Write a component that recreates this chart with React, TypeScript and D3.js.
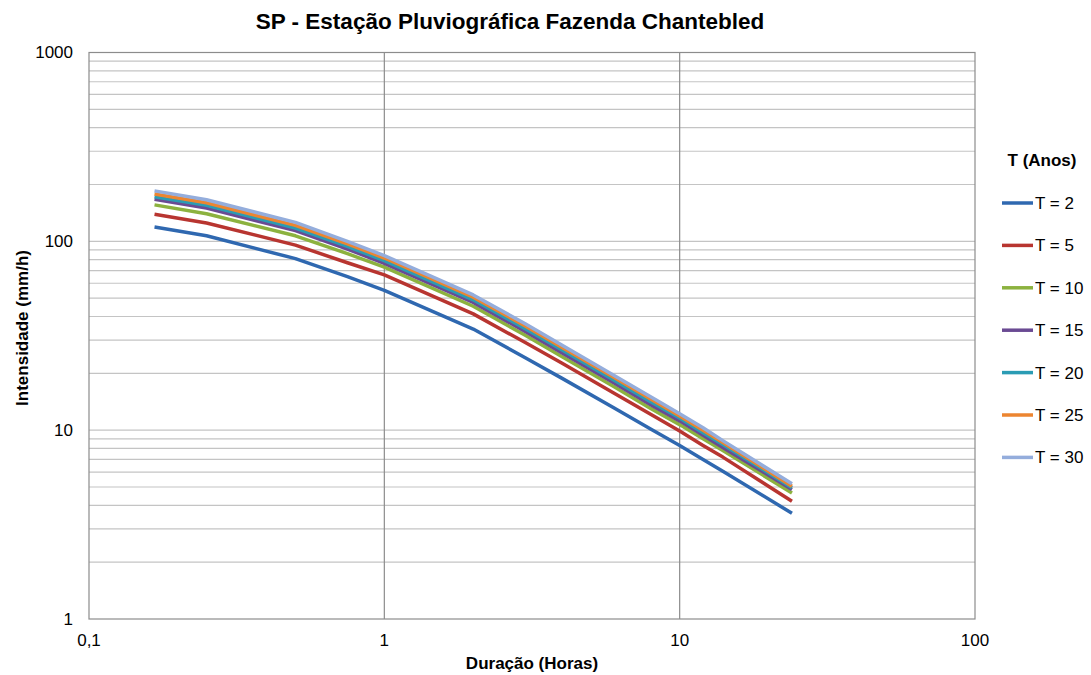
import { useEffect, useRef } from 'react';
import * as d3 from 'd3';

// duração em horas (10, 15, 30, 45 min, depois horas)
const durations = [1 / 6, 0.25, 0.5, 0.75, 1, 2, 3, 4, 6, 8, 10, 12, 14, 24];

const seriesNames = ['T = 2', 'T = 5', 'T = 10', 'T = 15', 'T = 20', 'T = 25', 'T = 30'];
const seriesColors = ['#2F68B0', '#B83530', '#8CB23F', '#6A4A93', '#2B9CB4', '#EC8530', '#94ADDC'];

const t2 = [119, 107, 81, 65, 55, 34.3, 24.2, 18.8, 13.1, 10.1, 8.3, 7.0, 6.06, 3.63];
const t5 = [139, 125, 95.5, 77, 66.5, 41.3, 29.1, 22.6, 15.7, 12.1, 9.9, 8.3, 7.2, 4.2];
const t10 = [156, 140, 107, 86, 73, 45.3, 31.8, 24.5, 17.0, 13.0, 10.7, 9.0, 7.8, 4.65];
const t15 = [167, 150, 114, 91, 76.5, 47.5, 33.3, 25.6, 17.8, 13.6, 11.2, 9.4, 8.1, 4.85];
const t20 = [172, 155, 117.5, 94, 79, 49, 34.5, 26.6, 18.4, 14.1, 11.6, 9.7, 8.4, 4.95];
const t25 = [178, 160, 121.5, 97, 81.6, 50.6, 35.6, 27.4, 19.0, 14.6, 11.9, 10.0, 8.6, 5.05];
const t30 = [185, 166, 126, 100, 84, 52, 36.6, 28.2, 19.5, 15.0, 12.2, 10.3, 8.8, 5.2];

const xTicks = [0.1, 1, 10, 100];
const xTickLabels = ['0,1', '1', '10', '100'];
const yTicks = [1, 10, 100, 1000];

const font = 'Liberation Sans, Arial, sans-serif';

export default function App() {
  const svgRef = useRef<SVGSVGElement>(null);

  useEffect(() => {
    document.body.style.margin = '0';
    const width = 1091;
    const height = 675;
    const margin = { top: 52.5, right: 116, bottom: 56, left: 89 };
    const innerWidth = width - margin.left - margin.right;
    const innerHeight = height - margin.top - margin.bottom;

    const svg = d3.select(svgRef.current).attr('width', width).attr('height', height);
    svg.selectAll('*').remove();

    svg.append('rect').attr('width', width).attr('height', height).attr('fill', 'white');

    const chart = svg.append('g').attr('transform', `translate(${margin.left},${margin.top})`);

    const xScale = d3.scaleLog().domain([0.1, 100]).range([0, innerWidth]);
    const yScale = d3.scaleLog().domain([1, 1000]).range([innerHeight, 0]);

    // linhas de grade horizontais (maiores e menores)
    const yGrid: number[] = [];
    [1, 10, 100].forEach(dec => {
      for (let k = 2; k <= 10; k++) yGrid.push(dec * k);
    });
    chart.selectAll('.hgrid')
      .data(yGrid.filter(v => v < 1000))
      .join('line')
      .attr('class', 'hgrid')
      .attr('x1', 0)
      .attr('x2', innerWidth)
      .attr('y1', d => yScale(d))
      .attr('y2', d => yScale(d))
      .attr('stroke', '#C4C4C4')
      .attr('stroke-width', 1.2);

    chart.selectAll('.vgrid')
      .data([1, 10])
      .join('line')
      .attr('class', 'vgrid')
      .attr('x1', d => xScale(d))
      .attr('x2', d => xScale(d))
      .attr('y1', 0)
      .attr('y2', innerHeight)
      .attr('stroke', '#8C8C8C')
      .attr('stroke-width', 1.2);

    chart.append('rect')
      .attr('width', innerWidth)
      .attr('height', innerHeight)
      .attr('fill', 'none')
      .attr('stroke', '#8C8C8C')
      .attr('stroke-width', 1.2);

    // eixos
    chart.selectAll('.ytick')
      .data(yTicks)
      .join('text')
      .attr('class', 'ytick')
      .attr('x', -16)
      .attr('y', d => yScale(d))
      .attr('dy', '0.35em')
      .attr('text-anchor', 'end')
      .attr('font-family', font)
      .attr('font-size', 17)
      .text(d => String(d));

    chart.selectAll('.xtick')
      .data(xTicks)
      .join('text')
      .attr('class', 'xtick')
      .attr('x', d => xScale(d))
      .attr('y', innerHeight + 27)
      .attr('text-anchor', 'middle')
      .attr('font-family', font)
      .attr('font-size', 17)
      .text((d, i) => xTickLabels[i]);

    // séries
    const allSeries = [t2, t5, t10, t15, t20, t25, t30];
    const line = d3.line<number>()
      .x((d, i) => xScale(durations[i]))
      .y(d => yScale(d));

    chart.selectAll('.series')
      .data(allSeries)
      .join('path')
      .attr('class', 'series')
      .attr('d', d => line(d))
      .attr('fill', 'none')
      .attr('stroke', (d, i) => seriesColors[i])
      .attr('stroke-width', 3.5)
      .attr('stroke-linejoin', 'round');

    // títulos
    svg.append('text')
      .attr('x', 510)
      .attr('y', 29)
      .attr('text-anchor', 'middle')
      .attr('font-family', font)
      .attr('font-weight', 'bold')
      .attr('font-size', 22.5)
      .text('SP - Estação Pluviográfica Fazenda Chantebled');

    svg.append('text')
      .attr('x', margin.left + innerWidth / 2)
      .attr('y', 669)
      .attr('text-anchor', 'middle')
      .attr('font-family', font)
      .attr('font-weight', 'bold')
      .attr('font-size', 17)
      .text('Duração (Horas)');

    svg.append('text')
      .attr('transform', 'rotate(-90)')
      .attr('x', -328)
      .attr('y', 28)
      .attr('text-anchor', 'middle')
      .attr('font-family', font)
      .attr('font-weight', 'bold')
      .attr('font-size', 17)
      .text('Intensidade (mm/h)');

    // legenda
    const legend = svg.append('g');
    legend.append('text')
      .attr('x', 1042)
      .attr('y', 166)
      .attr('text-anchor', 'middle')
      .attr('font-family', font)
      .attr('font-weight', 'bold')
      .attr('font-size', 17)
      .text('T (Anos)');

    const items = legend.selectAll('.item')
      .data(seriesNames)
      .join('g')
      .attr('class', 'item')
      .attr('transform', (d, i) => `translate(1002,${203 + i * 42.4})`);

    items.append('line')
      .attr('x1', 0)
      .attr('x2', 31)
      .attr('stroke', (d, i) => seriesColors[i])
      .attr('stroke-width', 3.5);

    items.append('text')
      .attr('x', 33)
      .attr('dy', '0.35em')
      .attr('font-family', font)
      .attr('font-size', 17)
      .text(d => d);
  }, []);

  return <svg ref={svgRef} style={{ display: 'block' }}></svg>;
}
